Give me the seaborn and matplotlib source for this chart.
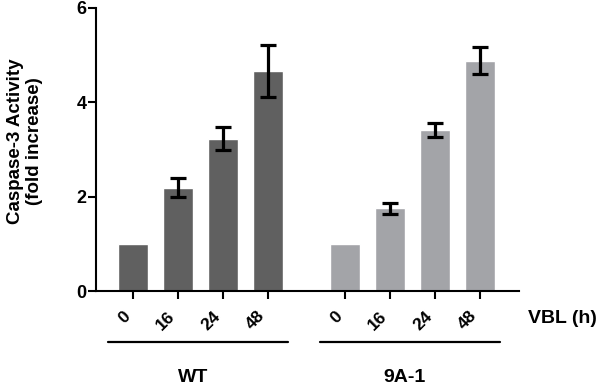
import numpy as np
import pandas as pd
import matplotlib
matplotlib.use('Agg')
import matplotlib.pyplot as plt
import matplotlib.transforms as mtransforms
import seaborn as sns

# values
groups = ['WT', '9A-1']
times = ['0', '16', '24', '48']
wt_mean = [1.0, 2.19, 3.23, 4.67]
wt_err = [0.0, 0.20, 0.24, 0.55]
ko_mean = [1.0, 1.75, 3.42, 4.88]
ko_err = [0.0, 0.12, 0.15, 0.29]

colors = {'WT': '#606060', '9A-1': '#a3a4a8'}
group_gap = 4.71  # offset of the second group of bars

sns.set_style('ticks')
plt.rcParams['font.family'] = ['Liberation Sans', 'DejaVu Sans']
plt.rcParams['font.weight'] = 'bold'
for k in ['text.color', 'axes.labelcolor', 'xtick.color', 'ytick.color',
          'axes.edgecolor']:
    plt.rcParams[k] = 'black'

rows = []
for g, means, errs in [('WT', wt_mean, wt_err), ('9A-1', ko_mean, ko_err)]:
    off = 0 if g == 'WT' else group_gap
    for i, (t, m, e) in enumerate(zip(times, means, errs)):
        rows.append({'group': g, 'time': t, 'pos': off + i, 'value': m, 'err': e})
df = pd.DataFrame(rows)

fig = plt.figure(figsize=(6, 3.88), dpi=100)
ax = fig.add_axes([0.16, 0.25, 0.705, 0.7294])

sns.barplot(data=df, x='pos', y='value', hue='group', palette=colors,
            native_scale=True, width=0.67, errorbar=None, legend=False,
            saturation=1, ax=ax)

e = df[df['err'] > 0]
ax.errorbar(e['pos'], e['value'], yerr=e['err'], fmt='none', ecolor='black',
            elinewidth=2.3, capsize=5.5, capthick=2.3, zorder=5)

ax.set_ylim(0, 6)
ax.set_yticks([0, 2, 4, 6])
ax.set_xlim(-0.82, 8.58)
ax.set_xticks(df['pos'])
ax.set_xticklabels(df['time'], rotation=45, ha='right', va='top',
                   fontsize=12.5, fontweight='bold')
ax.tick_params(axis='y', labelsize=13, width=1.5, length=6, pad=1)
ax.tick_params(axis='x', width=1.5, length=6, pad=6.5)
for lab in ax.get_yticklabels():
    lab.set_fontweight('bold')
ax.set_xlabel('')
ax.set_ylabel('Caspase-3 Activity\n(fold increase)', fontsize=13.5,
              fontweight='bold', linespacing=1.15)
ax.yaxis.set_label_coords(-0.125, 0.53)
sns.despine(ax=ax)
for s in ['left', 'bottom']:
    ax.spines[s].set_linewidth(1.5)

# group brackets below the axis
trans = mtransforms.blended_transform_factory(ax.transData, fig.transFigure)
for g in groups:
    p = df[df['group'] == g]['pos']
    x0, x1 = p.min() - 0.55, p.max() + 0.45
    ax.plot([x0, x1], [0.1186, 0.1186], color='black', lw=1.6,
            transform=trans, clip_on=False)
    ax.text((x0 + x1) / 2 - 0.12, 0.028, g, transform=trans, ha='center',
            va='center', fontsize=14, fontweight='bold')

fig.text(0.938, 0.18, 'VBL (h)', ha='center', va='center', fontsize=14,
         fontweight='bold')

fig.savefig('out.png', dpi=100)
